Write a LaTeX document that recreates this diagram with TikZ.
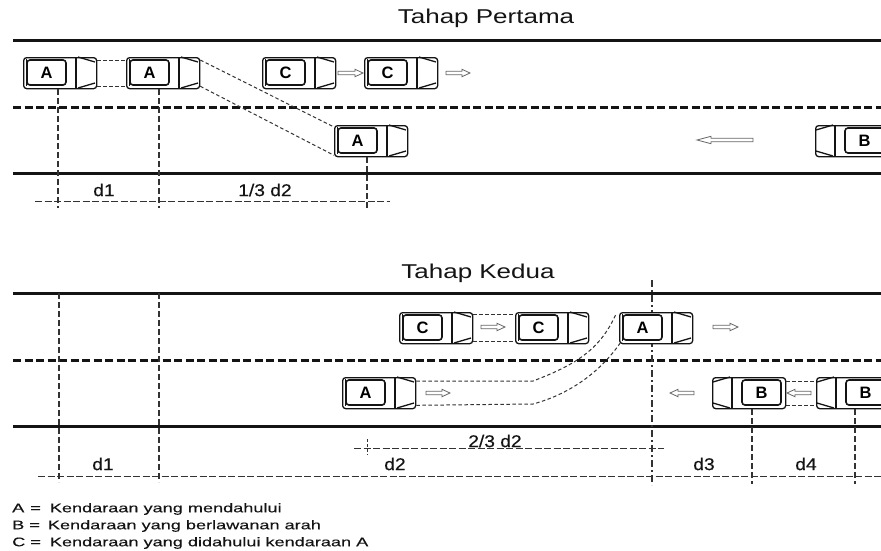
\documentclass[tikz,border=0pt]{standalone}
\usepackage{fontspec}
\setmainfont{Liberation Sans}
\newfontfamily\titlefont[FakeStretch=1.30]{Liberation Sans}
\newfontfamily\dimfont[FakeStretch=1.13,FakeBold=0.4]{Liberation Sans}
\newfontfamily\legendfont[FakeStretch=1.45,FakeBold=0.3]{Liberation Sans}
\usetikzlibrary{calc}
\definecolor{ink}{gray}{0.08}
\definecolor{guide}{gray}{0.2}
\tikzset{
  road/.style={draw=ink,line width=3pt},
  lane/.style={draw=ink,line width=3pt,dash pattern=on 8pt off 3.5pt},
  guideline/.style={draw=guide,line width=1.2pt,dash pattern=on 6pt off 3pt},
  dimline/.style={draw=guide,line width=1pt,dash pattern=on 7pt off 2.5pt},
  axisline/.style={draw=guide,line width=1.2pt,dash pattern=on 7pt off 3pt on 2pt off 3pt},
  trail/.style={draw=guide,line width=1pt,dash pattern=on 3.5pt off 2.5pt},
  body/.style={draw=ink,fill=white,line width=1.3pt,rounded corners=3pt,minimum width=73pt,minimum height=31pt,inner sep=0pt,anchor=north west},
  plate/.style={draw=ink,fill=white,line width=1.6pt,rounded corners=3pt,minimum width=39pt,minimum height=25pt,inner sep=0pt,font=\fontsize{16.5}{17}\selectfont\bfseries},
  glass/.style={draw=ink,line width=1.3pt},
  flow/.style={draw=black!60,fill=white,line width=0.8pt},
  title/.style={font=\titlefont\fontsize{20}{22}\selectfont,text=ink},
  dimtext/.style={font=\dimfont\fontsize{17}{19}\selectfont,text=ink},
  legend/.style={font=\legendfont\fontsize{12.5}{14}\selectfont,text=ink,anchor=west,inner sep=0pt}
}
% name, x, y, letter : car heading right
\newcommand{\carright}[4]{%
  \node[body] (#1) at (#2,#3) {};
  \draw[ink,line width=0.9pt] (#2+3,#3+2) -- (#2+3,#3+29);
  \node[plate] (#1p) at (#2+23.5,#3+15.5) {#4};
  \draw[glass] (#2+53,#3) -- (#2+53,#3+31);
  \draw[glass] (#2+55,#3) -- (#2+72,#3+5);
  \draw[glass] (#2+55,#3+31) -- (#2+72,#3+26);
}
% name, x, y, letter : car heading left
\newcommand{\carleft}[4]{%
  \node[body] (#1) at (#2,#3) {};
  \node[plate] (#1p) at (#2+49.5,#3+15.5) {#4};
  \draw[glass] (#2+20,#3) -- (#2+20,#3+31);
  \draw[glass] (#2+18,#3) -- (#2+1,#3+5);
  \draw[glass] (#2+18,#3+31) -- (#2+1,#3+26);
}
% x tail, x tip, y, head length (signed by direction)
\newcommand{\flowarrow}[4]{%
  \draw[flow] (#1,#3-1.7) -- (#2-#4,#3-1.7) -- (#2-#4,#3-3.7) -- (#2,#3) -- (#2-#4,#3+3.7) -- (#2-#4,#3+1.7) -- (#1,#3+1.7) -- cycle;
}
\begin{document}
\begin{tikzpicture}[x=1pt,y=-1pt]
\useasboundingbox (0,0) rectangle (881,550);
% ---------- Tahap Pertama ----------
\node[title] (t1) at (486,18) {Tahap Pertama};
\coordinate (r1a) at (13,40);   \coordinate (r1b) at (881,40);
\coordinate (r2a) at (13,107);  \coordinate (r2b) at (881,107);
\coordinate (r3a) at (13,173);  \coordinate (r3b) at (881,173);
\draw[road] (r1a) -- (r1b);
\draw[lane] (r2a) -- (r2b);
\draw[road] (r3a) -- (r3b);
\carright{a1}{23}{57}{A}
\carright{a2}{126}{57}{A}
\carright{c1}{262}{57}{C}
\carright{c2}{364}{57}{C}
\carright{a3}{334}{125}{A}
\carleft{b1}{815}{125}{B}
\flowarrow{338}{363}{73}{8}
\flowarrow{446}{470}{73}{8}
\flowarrow{753}{697}{140}{-14}
\draw[trail] ([yshift=-3pt]a1.north east) -- ([yshift=-3pt]a2.north west);
\draw[trail] ([yshift=3pt]a1.south east) -- ([yshift=3pt]a2.south west);
\draw[trail] ([yshift=-3pt]a2.north east) -- ([yshift=-2pt]a3.north west);
\draw[trail] ([yshift=3pt]a2.south east) -- ([yshift=2pt]a3.south west);
\coordinate (v1) at (58,208); \coordinate (v2) at (159,208); \coordinate (v3) at (367,208);
\coordinate (h1a) at (35,201); \coordinate (h1b) at (390,201);
\draw[guideline] ([xshift=35pt]a1.south west) -- (v1);
\draw[guideline] ([xshift=33pt]a2.south west) -- (v2);
\draw[guideline] ([xshift=33pt]a3.south west) -- (v3);
\draw[dimline] (h1a) -- (h1b);
\node[dimtext] (l1) at (104,190) {d1};
\node[dimtext] (l2) at (265,190) {1/3 d2};
% ---------- Tahap Kedua ----------
\coordinate (s1a) at (13,293);  \coordinate (s1b) at (881,293);
\coordinate (s2a) at (13,360);  \coordinate (s2b) at (881,360);
\coordinate (s3a) at (13,426);  \coordinate (s3b) at (881,426);
\draw[road] (s1a) -- (s1b);
\draw[lane] (s2a) -- (s2b);
\draw[road] (s3a) -- (s3b);
\node[title] (t2) at (478,273) {Tahap Kedua};
\coordinate (w1a) at (59,293); \coordinate (w1b) at (59,482);
\coordinate (w2a) at (159,293); \coordinate (w2b) at (159,482);
\coordinate (w3a) at (652,280); \coordinate (w3b) at (652,485);
\draw[guideline] (w1a) -- (w1b);
\draw[guideline] (w2a) -- (w2b);
\draw[axisline] (w3a) -- (w3b);
\carright{c3}{399}{312}{C}
\carright{c4}{515}{312}{C}
\carright{a5}{619}{312}{A}
\carright{a4}{342}{377}{A}
\carleft{b2}{712}{377}{B}
\carleft{b3}{816}{377}{B}
\flowarrow{481}{505}{327}{8}
\flowarrow{713}{738}{327}{8}
\flowarrow{426}{450}{393}{8}
\flowarrow{694}{670}{393}{-8}
\flowarrow{811}{787}{393}{-8}
\draw[trail] ([yshift=-2pt]c3.north east) -- ([yshift=-2pt]c4.north west);
\draw[trail] ([yshift=3pt]c3.south east) -- ([yshift=3pt]c4.south west);
\coordinate (k1) at (533,381); \coordinate (k2) at (533,404);
\draw[trail] ([yshift=-4pt]a4.north east) -- (k1) .. controls (575,365) and (600,350) .. ([xshift=-3pt,yshift=-2pt]a5.north west);
\draw[trail] ([yshift=4pt]a4.south east) -- (k2) .. controls (570,394) and (600,372) .. ([xshift=1pt,yshift=1pt]a5.south west);
\draw[trail] ([yshift=-4pt]b2.north east) -- ([yshift=-4pt]b3.north west);
\draw[trail] ([yshift=4pt]b2.south east) -- ([yshift=4pt]b3.south west);
\coordinate (u1) at (752,484); \coordinate (u2) at (855,484);
\draw[guideline] ([xshift=40pt]b2.south west) -- (u1);
\draw[guideline] ([xshift=39pt]b3.south west) -- (u2);
\coordinate (m1a) at (354,448); \coordinate (m1b) at (664,448);
\coordinate (m2a) at (367,439); \coordinate (m2b) at (367,455);
\coordinate (m3a) at (38,476);  \coordinate (m3b) at (881,476);
\draw[dimline] (m1a) -- (m1b);
\draw[dimline,dash pattern=on 3pt off 2pt] (m2a) -- (m2b);
\draw[dimline] (m3a) -- (m3b);
\node[dimtext] (l3) at (495,441) {2/3 d2};
\node[dimtext] (l4) at (103,464) {d1};
\node[dimtext] (l5) at (395,464) {d2};
\node[dimtext] (l6) at (704,464) {d3};
\node[dimtext] (l7) at (806,464) {d4};
% ---------- Legend ----------
\node[legend] (e1) at (12,509) {A\hspace{6pt}=\hspace{9pt}Kendaraan yang mendahului};
\node[legend] (e2) at (12,526) {B =\hspace{8pt}Kendaraan yang berlawanan arah};
\node[legend] (e3) at (12,543) {C =\hspace{9pt}Kendaraan yang didahului kendaraan A};
\end{tikzpicture}
\end{document}
